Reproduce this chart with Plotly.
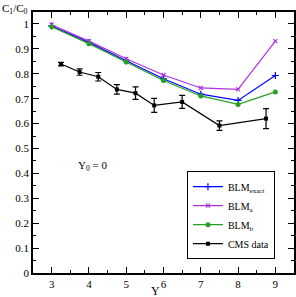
import plotly.graph_objects as go

Y_theory = [3, 4, 5, 6, 7, 8, 9]
blm_exact = [0.992, 0.926, 0.852, 0.780, 0.718, 0.693, 0.793]
blm_a = [0.997, 0.931, 0.860, 0.795, 0.743, 0.737, 0.931]
blm_b = [0.989, 0.921, 0.847, 0.773, 0.711, 0.677, 0.727]

Y_cms = [3.25, 3.75, 4.25, 4.75, 5.25, 5.75, 6.5, 7.5, 8.75]
cms = [0.839, 0.807, 0.788, 0.737, 0.722, 0.673, 0.687, 0.592, 0.620]
cms_err = [0.007, 0.013, 0.017, 0.019, 0.025, 0.028, 0.026, 0.019, 0.040]

FONT = "Liberation Serif"

fig = go.Figure()
fig.add_trace(go.Scatter(x=Y_theory, y=blm_exact, mode="lines+markers",
                         name="BLM<sub>exact</sub>",
                         line=dict(color="#0000ff", width=1.2),
                         marker=dict(symbol="cross-thin", size=5, color="#0000ff",
                                     line=dict(color="#0000ff", width=1.2))))
fig.add_trace(go.Scatter(x=Y_theory, y=blm_a, mode="lines+markers",
                         name="BLM<sub>a</sub>",
                         line=dict(color="#b030e0", width=1.2),
                         marker=dict(symbol="x-thin", size=4, color="#b030e0",
                                     line=dict(color="#b030e0", width=1.2))))
fig.add_trace(go.Scatter(x=Y_theory, y=blm_b, mode="lines+markers",
                         name="BLM<sub>b</sub>",
                         line=dict(color="#22a022", width=1.2),
                         marker=dict(symbol="circle", size=5, color="#22a022")))
fig.add_trace(go.Scatter(x=Y_cms, y=cms, mode="lines+markers",
                         name="CMS data",
                         line=dict(color="#000000", width=1.2),
                         marker=dict(symbol="square", size=4, color="#000000"),
                         error_y=dict(type="data", array=cms_err, color="#000000",
                                      thickness=1.2, width=3)))

axis_common = dict(showline=True, linecolor="black", linewidth=1.5, mirror="ticks",
                   ticks="inside", ticklen=6, tickwidth=1.2, tickcolor="black",
                   showgrid=False, zeroline=False, automargin=False,
                   tickfont=dict(family=FONT, size=11, color="black"))

fig.update_xaxes(range=[2.5, 9.5], tickvals=[3, 4, 5, 6, 7, 8, 9],
                 minor=dict(ticks="inside", ticklen=3, tickwidth=1, tickcolor="black",
                            dtick=0.5, tick0=2.5, showgrid=False),
                 **axis_common)
fig.update_yaxes(range=[0, 1.048], tickvals=[0, 0.1, 0.2, 0.3, 0.4, 0.5, 0.6, 0.7, 0.8, 0.9, 1],
                 ticktext=["0", "0.1", "0.2", "0.3", "0.4", "0.5", "0.6", "0.7", "0.8", "0.9", "1"],
                 minor=dict(ticks="inside", ticklen=3, tickwidth=1, tickcolor="black",
                            dtick=0.05, tick0=0, showgrid=False),
                 **axis_common)

fig.update_layout(
    template="none",
    width=296, height=297,
    margin=dict(l=33, r=2, t=12, b=24, autoexpand=False),
    paper_bgcolor="white", plot_bgcolor="white",
    font=dict(family=FONT, size=11, color="black"),
    showlegend=True,
    legend=dict(x=0.927, y=0.053, xanchor="right", yanchor="bottom",
                bordercolor="black", borderwidth=1, bgcolor="white",
                font=dict(family=FONT, size=10, color="black"),
                tracegroupgap=0, itemwidth=30),
    annotations=[
        dict(x=-0.125, y=1.012, xref="paper", yref="paper", xanchor="left", yanchor="middle",
             text="C<sub>1</sub>/C<sub>0</sub>", showarrow=False,
             font=dict(family=FONT, size=11, color="black")),
        dict(x=0.469, y=-0.069, xref="paper", yref="paper", xanchor="center", yanchor="middle",
             text="Y", showarrow=False, font=dict(family=FONT, size=12, color="black")),
        dict(x=4.11, y=0.428, xref="x", yref="y", text="Y<sub>0</sub> = 0",
             showarrow=False, font=dict(family=FONT, size=11, color="black")),
    ],
)

fig.write_html("out.html", config={"displayModeBar": False},
               post_script="document.body.style.margin='0';document.body.style.padding='0';")
